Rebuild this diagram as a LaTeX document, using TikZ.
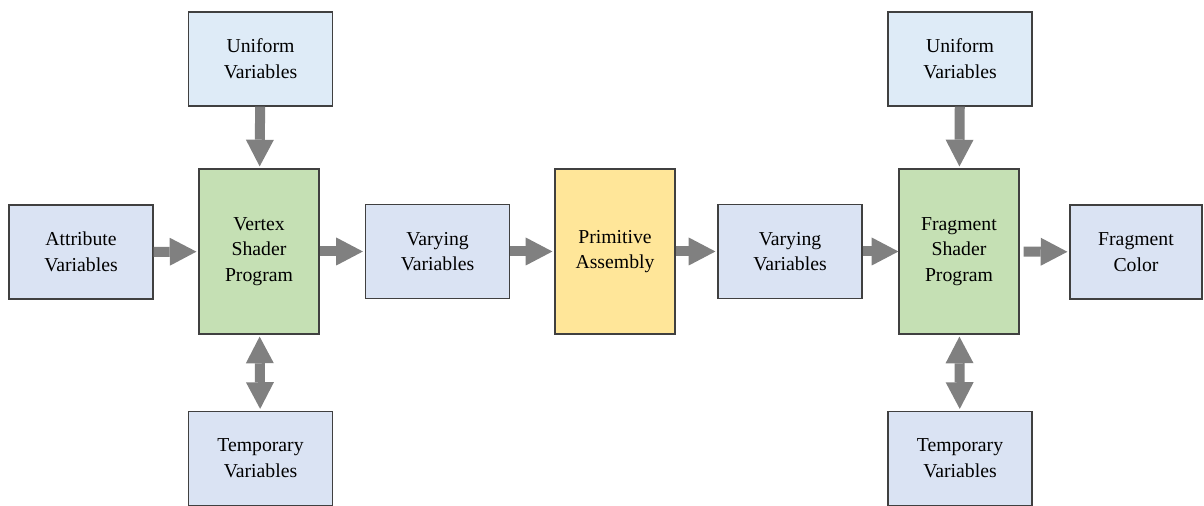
\documentclass[tikz,border=0pt]{standalone}
\usepackage{fontspec}
\setmainfont{LiberationSerif}[Extension=.ttf, UprightFont=*-Regular, BoldFont=*-Bold]
\usetikzlibrary{arrows.meta}
\definecolor{uniblue}{HTML}{DEEBF7}
\definecolor{varblue}{HTML}{DAE3F3}
\definecolor{shadegreen}{HTML}{C5E0B4}
\definecolor{asmyellow}{HTML}{FFE699}
\definecolor{boxline}{HTML}{404040}
\begin{document}
\begin{tikzpicture}[x=0.75pt, y=-0.75pt,
    box/.style={draw=boxline, line width=0.9pt, align=center, inner sep=0pt,
      font=\fontsize{14.8}{19.3}\selectfont},
    varbox/.style={box, fill=varblue, minimum width=108pt, minimum height=70.5pt},
    unibox/.style={box, fill=uniblue, minimum width=108pt, minimum height=70.5pt},
    shaderbox/.style={box, fill=shadegreen, minimum width=90pt, minimum height=123.75pt},
    fat/.style={draw=gray, line width=7.5pt,
      -{Triangle[width=21pt, length=20pt, line width=0pt]}},
    fatboth/.style={fat, {Triangle[width=21pt, length=20pt, line width=0pt]}-{Triangle[width=21pt, length=20pt, line width=0pt]}}]
  \useasboundingbox (0,0) rectangle (1204,506);
  % vertex stage
  \node[unibox] (uni1) at (260.5,59) {Uniform\\Variables};
  \node[varbox] (attr) at (81,252) {Attribute\\Variables};
  \node[shaderbox] (vsh) at (259,251.5) {Vertex\\Shader\\Program};
  \node[varbox] (tmp1) at (260.5,458.5) {Temporary\\Variables};
  \node[varbox] (vary1) at (437.5,251.5) {Varying\\Variables};
  % assembly
  \node[box, fill=asmyellow, minimum width=90pt, minimum height=123.75pt] (prim) at (615,251.5) {Primitive\\Assembly};
  % fragment stage
  \node[varbox] (vary2) at (790,251.5) {Varying\\Variables};
  \node[unibox] (uni2) at (960,59) {Uniform\\Variables};
  \node[shaderbox] (fsh) at (959,251.5) {Fragment\\Shader\\Program};
  \node[varbox, minimum width=99pt] (fcol) at (1136,252) {Fragment\\Color};
  \node[varbox] (tmp2) at (960,458.5) {Temporary\\Variables};

  \draw[fat, shorten >=1.5pt] (uni1) -- (vsh);
  \draw[fat, shorten >=1.5pt] (attr) -- (vsh);
  \draw[fatboth, shorten >=1.5pt, shorten <=1.5pt] (vsh) -- (tmp1);
  \draw[fat, shorten >=1.5pt] (vsh) -- (vary1);
  \draw[fat, shorten >=1.5pt] (vary1) -- (prim);
  \draw[fat, shorten >=1.5pt] (prim) -- (vary2);
  \draw[fat] (vary2) -- (fsh);
  \draw[fat, shorten >=1.5pt] (uni2) -- (fsh);
  \draw[fatboth, shorten >=1.5pt, shorten <=1.5pt] (fsh) -- (tmp2);
  \draw[fat, shorten <=3pt, shorten >=1.5pt] (fsh) -- (fcol);
\end{tikzpicture}
\end{document}
